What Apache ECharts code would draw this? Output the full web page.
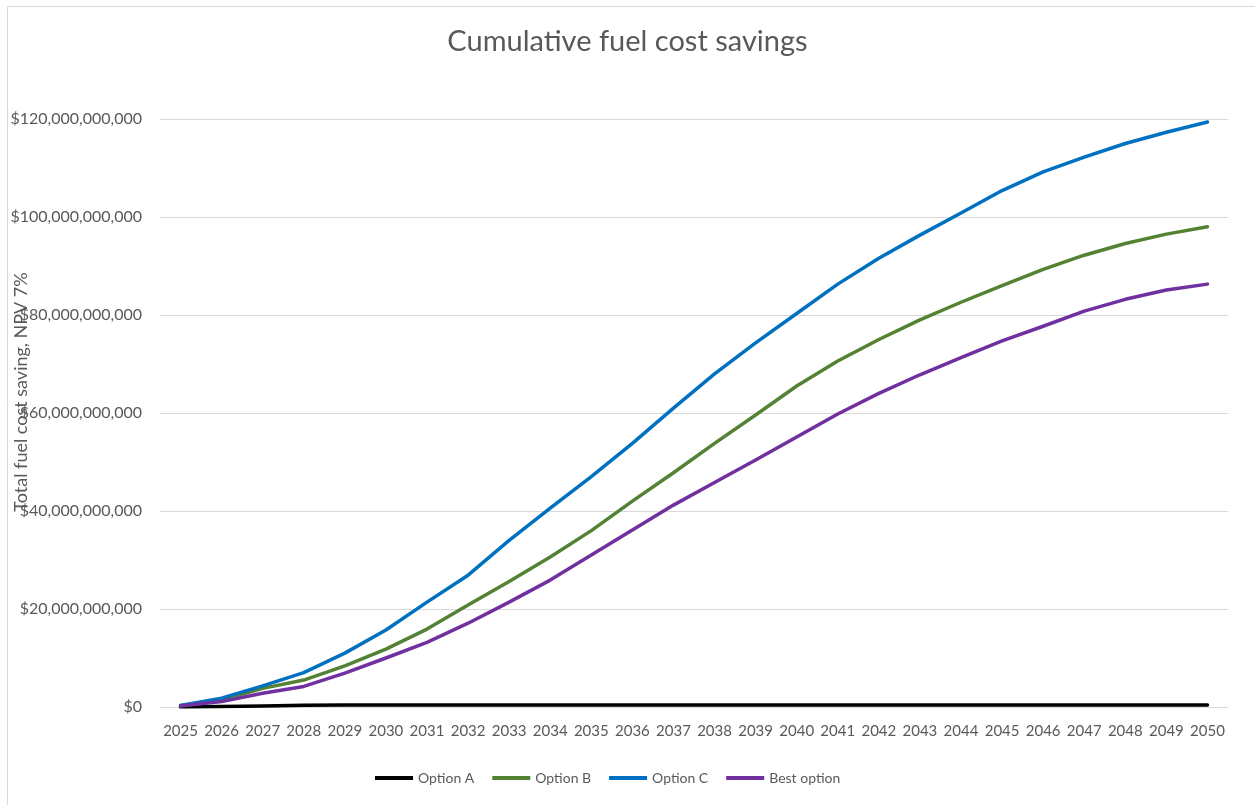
<!DOCTYPE html>
<html>
<head>
<meta charset="utf-8">
<script src="https://cdn.jsdelivr.net/npm/echarts@6/dist/echarts.min.js"></script>
<style>
html,body{margin:0;padding:0;background:#fff;}
#chart{width:1255px;height:805px;}
</style>
</head>
<body>
<div id="chart"></div>
<script>
// Values in billions of dollars
const years = ['2025','2026','2027','2028','2029','2030','2031','2032','2033','2034','2035','2036','2037','2038','2039','2040','2041','2042','2043','2044','2045','2046','2047','2048','2049','2050'];
const optionA = [0, 0.1, 0.2, 0.35, 0.4, 0.4, 0.4, 0.4, 0.4, 0.4, 0.4, 0.4, 0.4, 0.4, 0.4, 0.4, 0.4, 0.4, 0.4, 0.4, 0.4, 0.4, 0.4, 0.4, 0.4, 0.4];
const optionB = [0.3, 1.4, 3.8, 5.5, 8.4, 11.8, 15.9, 20.8, 25.6, 30.6, 36.0, 42.0, 47.8, 53.8, 59.6, 65.5, 70.6, 75.0, 79.0, 82.6, 86.0, 89.3, 92.2, 94.6, 96.5, 98.0];
const optionC = [0.3, 1.8, 4.3, 7.0, 11.0, 15.7, 21.4, 26.9, 34.0, 40.6, 47.0, 53.8, 61.0, 68.0, 74.3, 80.3, 86.3, 91.6, 96.3, 100.8, 105.4, 109.2, 112.2, 115.0, 117.3, 119.4];
const bestOption = [0.2, 1.1, 2.8, 4.2, 6.9, 10.0, 13.2, 17.1, 21.4, 25.9, 31.0, 36.1, 41.2, 45.8, 50.4, 55.1, 59.8, 64.0, 67.8, 71.3, 74.7, 77.7, 80.8, 83.2, 85.1, 86.3];
const seriesNames = ['Option A', 'Option B', 'Option C', 'Best option'];

const toDollars = arr => arr.map(v => v * 1e9);
const colors = ['#000000', '#548235', '#0070C0', '#7030A0'];
const dataSets = [optionA, optionB, optionC, bestOption];

const chart = echarts.init(document.getElementById('chart'), null, {renderer: 'canvas'});
const font = 'Lato, "Open Sans", sans-serif';

chart.setOption({
  animation: false,
  backgroundColor: '#ffffff',
  graphic: [{
    type: 'rect',
    shape: {x: 7.5, y: 6.5, width: 1300, height: 900},
    style: {fill: 'none', stroke: '#D9D9D9', lineWidth: 1},
    silent: true
  }],
  title: {
    text: 'Cumulative fuel cost savings',
    left: 'center',
    top: 22,
    padding: [5, 5, 5, 15],
    textStyle: {fontFamily: font, fontSize: 29, fontWeight: 'normal', color: '#595959'}
  },
  legend: {
    left: 370,
    top: 766,
    itemWidth: 38,
    itemHeight: 4,
    itemGap: 18,
    icon: 'rect',
    data: seriesNames,
    textStyle: {fontFamily: font, fontSize: 14, color: '#595959'}
  },
  grid: {left: 160, right: 27, top: 119, bottom: 98, containLabel: false, outerBoundsMode: 'none'},
  xAxis: {
    type: 'category',
    data: years,
    boundaryGap: true,
    axisLine: {show: true, lineStyle: {color: '#D9D9D9', width: 1}},
    axisTick: {show: false},
    axisLabel: {interval: 0, fontFamily: font, fontSize: 15, color: '#595959', margin: 17}
  },
  yAxis: {
    type: 'value',
    min: 0,
    max: 120e9,
    interval: 20e9,
    name: 'Total fuel cost saving, NPV 7%',
    nameLocation: 'middle',
    nameGap: 130,
    nameMoveOverlap: false,
    nameTextStyle: {fontFamily: font, fontSize: 18, color: '#595959', padding: [0, 0, 0, 42]},
    axisLine: {show: false},
    axisTick: {show: false},
    splitLine: {show: true, lineStyle: {color: '#D9D9D9', width: 1}},
    axisLabel: {
      fontFamily: font, fontSize: 16, color: '#595959', margin: 18,
      formatter: v => '$' + Math.round(v).toLocaleString('en-US')
    }
  },
  series: dataSets.map((d, i) => ({
    name: seriesNames[i],
    type: 'line',
    data: toDollars(d),
    showSymbol: false,
    symbol: 'none',
    smooth: false,
    lineStyle: {color: colors[i], width: 3.5, cap: 'round', join: 'round'},
    itemStyle: {color: colors[i]}
  }))
});
</script>
</body>
</html>
